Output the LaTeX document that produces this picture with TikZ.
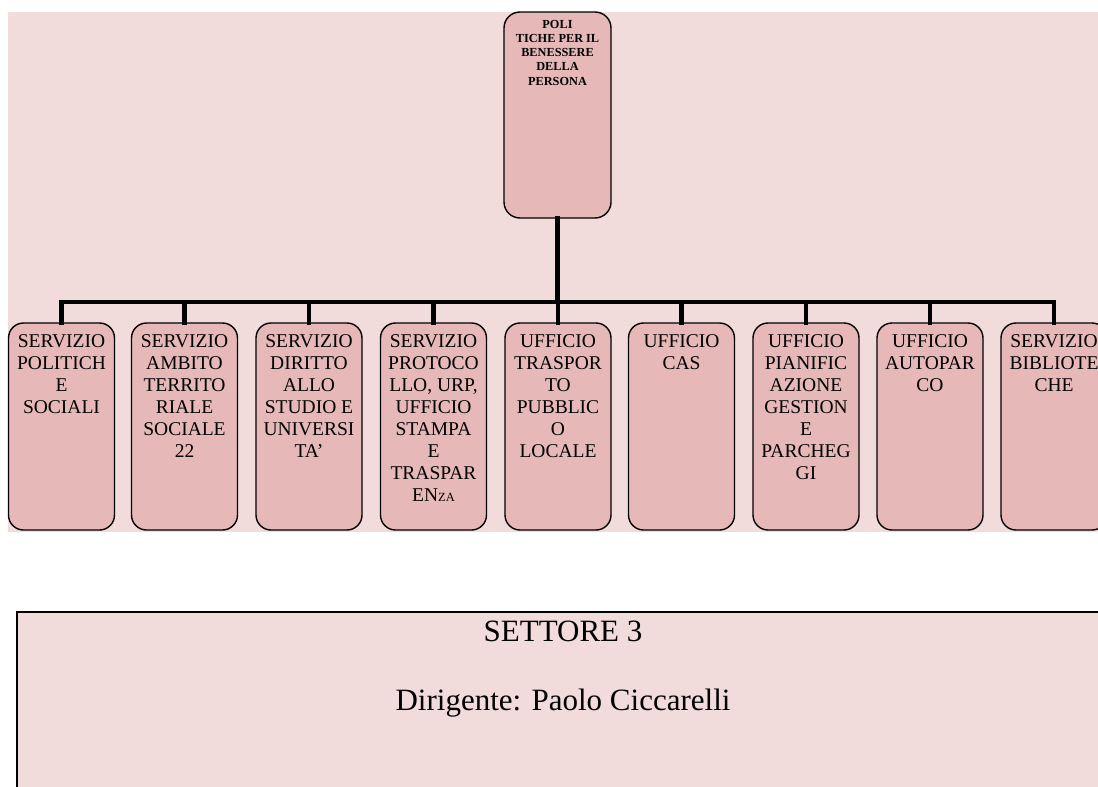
\documentclass[tikz,border=0pt]{standalone}
\usepackage{fontspec}
\setmainfont{Liberation Serif}
\definecolor{panelbg}{HTML}{F2DCDB}
\definecolor{boxfill}{HTML}{E6B8B7}
\begin{document}
\begin{tikzpicture}[x=1pt,y=-1pt,
  childbox/.style={draw=black,line width=1.4pt,fill=boxfill,rounded corners=15pt,minimum width=106pt,minimum height=207pt,inner sep=0pt},
  topbox/.style={draw=black,line width=1.4pt,fill=boxfill,rounded corners=16pt,minimum width=107pt,minimum height=206pt,inner sep=0pt},
  childtext/.style={anchor=north,align=center,inner sep=0pt,font=\fontsize{19.5}{22}\selectfont},
  toptext/.style={anchor=north,align=center,inner sep=0pt,font=\fontsize{12.3}{14.2}\selectfont\bfseries},
  conn/.style={line width=4.5pt,line join=miter,line cap=rect},
  bigtext/.style={font=\fontsize{31}{34}\selectfont}]
\useasboundingbox (0,0) rectangle (1098,787);
\fill[panelbg] (8,12) rectangle (1098,532);
% bottom box
\path[fill=panelbg,draw=black,line width=2.2pt] (17,612) rectangle (1110,800);
\node[bigtext] (settore) at (563,631) {SETTORE 3};
\node[bigtext] (dirig) at (563,703) {Dirigente: Paolo Ciccarelli};
% top box
\node[topbox] (top) at (557.5,115) {};
\node[toptext] (toplbl) at (557.5,20) {POLI\\TICHE PER IL\\BENESSERE\\DELLA\\PERSONA};
% child boxes
\node[childbox] (c1) at (61.5,426.5) {};
\node[childbox] (c2) at (184.5,426.5) {};
\node[childbox] (c3) at (309,426.5) {};
\node[childbox] (c4) at (433.5,426.5) {};
\node[childbox] (c5) at (558,426.5) {};
\node[childbox] (c6) at (681.5,426.5) {};
\node[childbox] (c7) at (806,426.5) {};
\node[childbox] (c8) at (930,426.5) {};
\node[childbox] (c9) at (1054,426.5) {};
\node[childtext] (t1) at (61.5,334) {SERVIZIO\\POLITICH\\E\\SOCIALI};
\node[childtext] (t2) at (184.5,334) {SERVIZIO\\AMBITO\\TERRITO\\RIALE\\SOCIALE\\22};
\node[childtext] (t3) at (309,334) {SERVIZIO\\DIRITTO\\ALLO\\STUDIO E\\UNIVERSI\\TA’};
\node[childtext] (t4) at (433.5,334) {SERVIZIO\\PROTOCO\\LLO, URP,\\UFFICIO\\STAMPA\\E\\TRASPAR\\EN{\fontsize{12.5}{22}\selectfont ZA}};
\node[childtext] (t5) at (558,334) {UFFICIO\\TRASPOR\\TO\\PUBBLIC\\O\\LOCALE};
\node[childtext] (t6) at (681.5,334) {UFFICIO\\CAS};
\node[childtext] (t7) at (806,334) {UFFICIO\\PIANIFIC\\AZIONE\\GESTION\\E\\PARCHEG\\GI};
\node[childtext] (t8) at (930,334) {UFFICIO\\AUTOPAR\\CO};
\node[childtext] (t9) at (1054,334) {SERVIZIO\\BIBLIOTE\\CHE};
% connectors
\coordinate (bus) at (0,302);
\draw[conn] (top.south) -- (top.south |- bus);
\draw[conn] (c1.north) -- (c1.north |- bus) -- (c9.north |- bus) -- (c9.north);
\foreach \i in {2,...,8} {\draw[conn] (c\i.north |- bus) -- (c\i.north);}
\end{tikzpicture}
\end{document}
